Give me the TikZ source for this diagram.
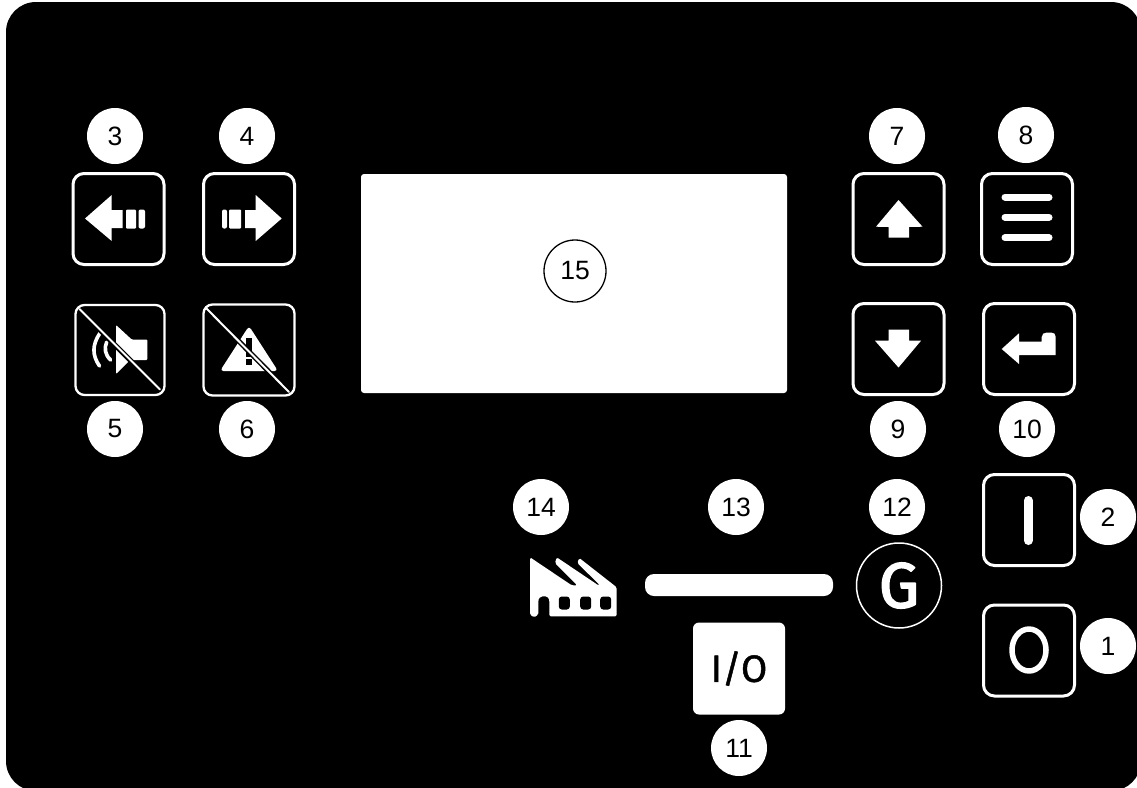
\documentclass[tikz,border=0pt]{standalone}
\usepackage{fontspec}
\setmainfont{Liberation Sans}
\newfontfamily\panelfont[FakeBold=1.2]{Fira Sans}
\newfontfamily\genfont[FakeBold=2.4]{Fira Sans}
\tikzset{
  every picture/.style={line join=round, line cap=round},
  badge/.style={circle,fill=white,text=black,inner sep=0pt,minimum size=56pt,font=\fontsize{26.5}{30}\selectfont},
  keybox/.style={draw=white,line width=3pt,rounded corners=11pt,inner sep=0pt,minimum size=91pt},
  mutebox/.style={keybox,line width=2.3pt,rounded corners=9pt},
  icon/.style={fill=white,draw=none},
  slash/.style={draw=white,line width=2pt},
  halo/.style={draw=black,line width=5pt,line cap=butt},
}
\begin{document}
\begin{tikzpicture}[x=1pt,y=-1pt]
\useasboundingbox(0,0)rectangle(1137,787);
\fill[white](0,0)rectangle(1137,787);
\begin{scope}
\clip(0,0)rectangle(1137,787);
\fill[black,rounded corners=30pt](6,2)rectangle(1141,791);
\end{scope}
\foreach \keyname/\xc/\yc in {left/118.5/219,right/249/219,up/898.5/219,menu/1027/219,down/898.5/349,enter/1029/349,on/1029/520,off/1029/650.5}
  \node[keybox](\keyname)at(\xc,\yc){};
\node[mutebox,minimum width=89pt,minimum height=90pt](mute)at(120,350){};
\node[mutebox](ack)at(249,350){};
\node[icon,rounded corners=3pt,minimum width=426pt,minimum height=219pt,inner sep=0pt](screen)at(574,283.5){};
\node[icon,rounded corners=9pt,minimum width=188pt,minimum height=22pt,inner sep=0pt](bar)at(739,585){};
\node[draw=white,line width=1.5pt,circle,inner sep=0pt,minimum size=85pt,text=white,font=\genfont\fontsize{64}{64}\selectfont](gen)at(899,585.5){G};
\node[icon,rounded corners=6pt,minimum size=92pt,inner sep=0pt,text=black,font=\panelfont\fontsize{38}{38}\selectfont](auto)at(739,668.5){I/O};
\foreach \num/\xc/\yc in {1/1108/646,2/1108/517,3/115/136,4/247/136,5/115/429,6/247/429,7/897/136,8/1026/135,9/898/429,10/1027/429,11/739/748,12/897/507,13/736/507,14/541/507}
  \node[badge](n\num)at(\xc,\yc){\num};
\node[badge,draw=black,line width=1.3pt,minimum size=62pt](n15)at(575,271){15};
% arrows
\fill[white](85,218.5)--(111.7,195)--(111.7,210)--(122.7,210)--(122.7,228)--(111.7,228)--(111.7,241)--cycle;
\fill[white,rounded corners=1pt](126,209.5)rectangle(136,228.5);
\fill[white,rounded corners=2pt](138.5,209.5)rectangle(145,228.5);
\fill[white](281.7,218.5)--(255.7,195)--(255.7,210)--(245,210)--(245,228)--(255.7,228)--(255.7,241)--cycle;
\fill[white,rounded corners=1pt](229,209.5)rectangle(241,228.5);
\fill[white,rounded corners=2pt](222,209.5)rectangle(227,228.5);
\fill[white](898.5,200)--(922.5,226.7)--(909,227)--(909,237.5)--(888.5,237.5)--(888.5,227)--(876,226.7)--cycle;
\fill[white](898.5,367.5)--(921,340.7)--(909,340.7)--(909,329.5)--(888.5,329.5)--(888.5,340.7)--(875,340.7)--cycle;
% menu and enter
\foreach \yc in {197,217.3,237.7}
  \draw[white,line width=7pt](1005,\yc)--(1049,\yc);
\fill[white](1001.7,349)--(1019,333.3)--(1019,341.7)--(1041.7,341.7)--(1041.7,337)
  ..controls(1041.7,334)and(1044,332.5)..(1047,332.5)--(1051,332.5)..controls(1054,332.5)and(1055.7,334)..(1055.7,337)--(1055.7,355)--(1019,355)--(1019,364)--cycle;
% on off
\draw[white,line width=9pt](1028.3,500.5)--(1028.3,540.5);
\draw[white,line width=5.5pt](1029,650)ellipse[x radius=17pt,y radius=21pt];
% speaker
\fill[white,rounded corners=1pt](116,325)--(131.7,339.5)--(147.3,339.5)--(147.3,360)--(130,360)--(116,374)--cycle;
\draw[white,line width=3.6pt](100,333)..controls(92,345)and(92,355)..(99.5,366);
\draw[white,line width=3.6pt](106.7,342)..controls(104,348)and(105,355)..(110.7,360);
\draw[halo](84,314)--(155,385);
\draw[slash](79.5,309)--(160,389.5);
% warning
\fill[white,rounded corners=3.5pt](249,326)--(278,371)--(220,371)--cycle;
\fill[black](245.7,338)rectangle(251.7,356.7);
\fill[black](245.7,359.3)rectangle(251.7,365);
\draw[halo](211,313)--(284,387);
\draw[slash](206,308)--(289,392);
% factory
\fill[white,rounded corners=1.5pt](530,557.3)--(571.7,585.3)--(577.3,585.3)--(555,563)--(556.7,557.3)--(598.3,585.3)--(600,585.3)--(577.3,563)--(579.3,558)--(616.7,587.3)--(616.7,616.3)--(549.3,616.3)--(549.3,603)
  ..controls(549.3,598)and(547,596.3)..(544,596.3)..controls(541,596.3)and(538.3,598)..(538.3,603)--(538.3,614.7)--(534,617.3)--(530,614.7)--cycle;
\foreach \xc in {564.3,585.7,605.7}
  \fill[black,rounded corners=3pt](\xc-5.5,596.5)rectangle(\xc+5.5,609.5);
\end{tikzpicture}
\end{document}
